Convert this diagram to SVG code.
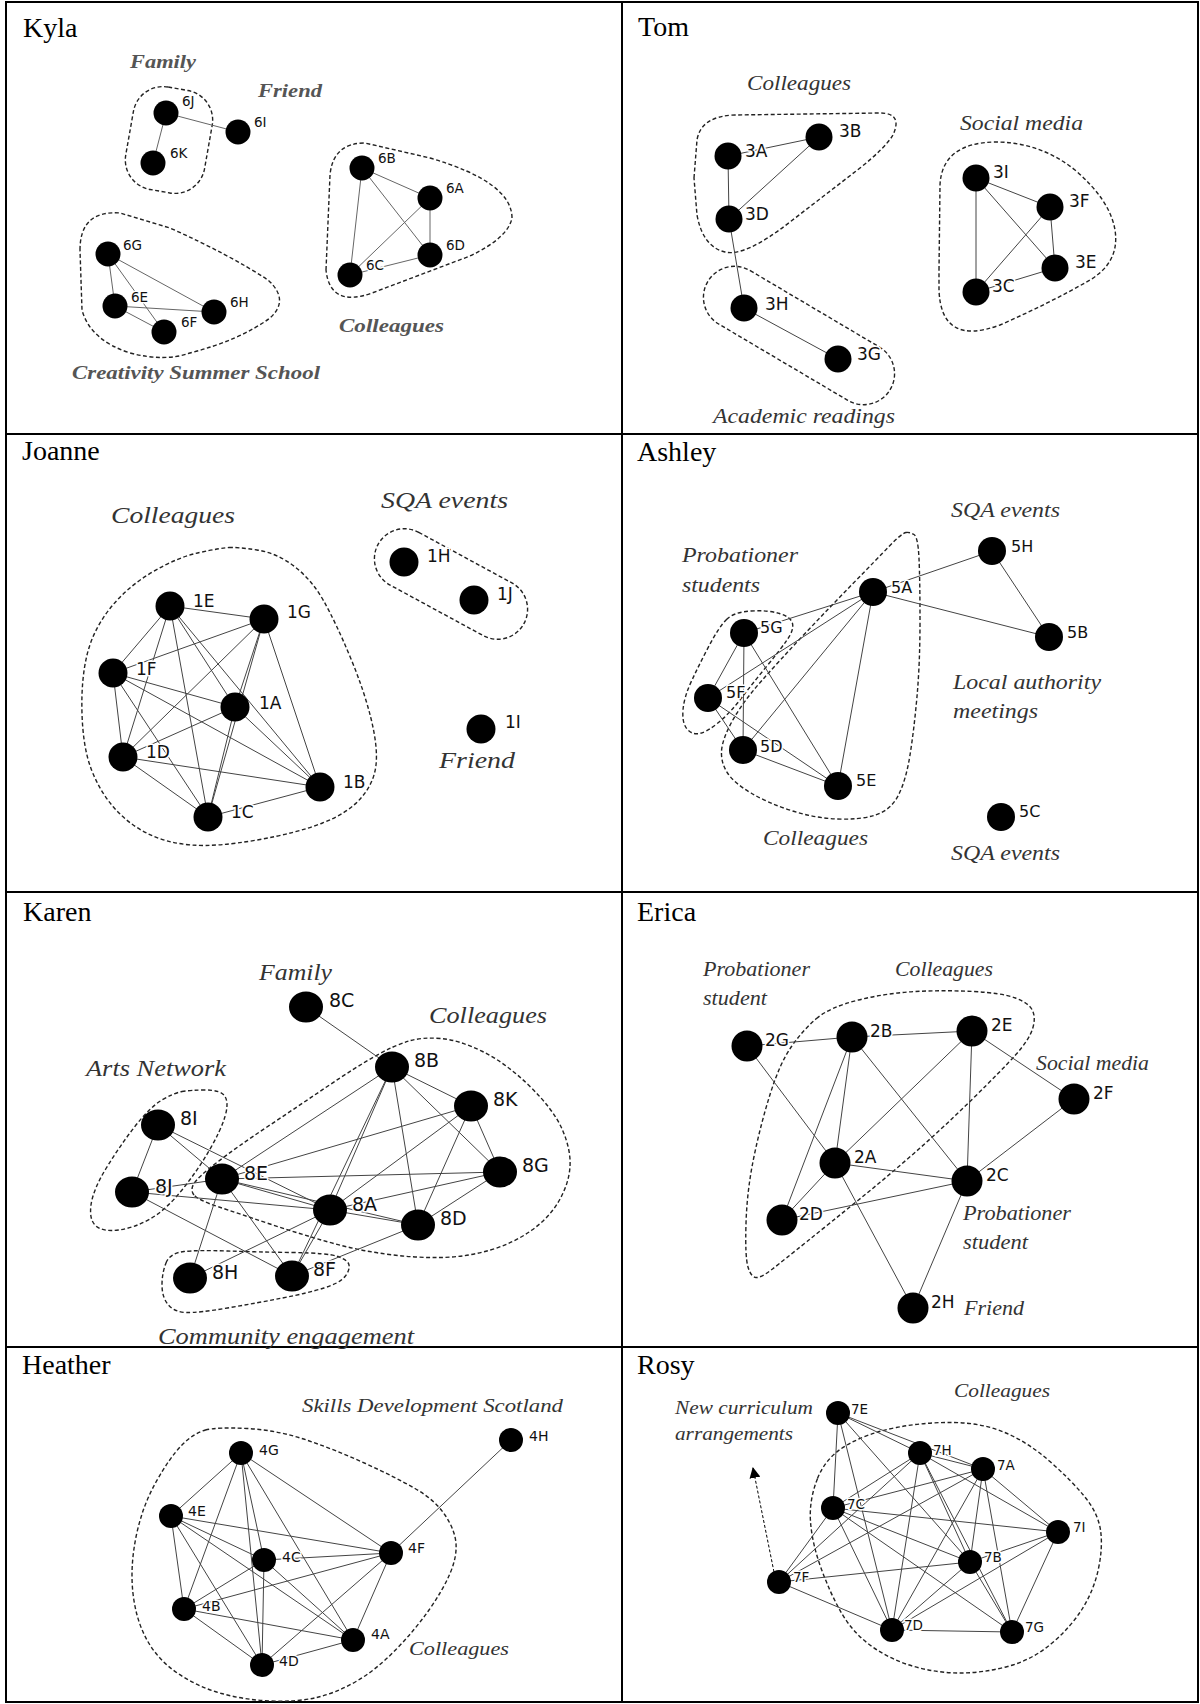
<svg xmlns="http://www.w3.org/2000/svg" width="1200" height="1704" viewBox="0 0 1200 1704">
<defs>
<style>
.cell{fill:none;stroke:#000;stroke-width:2}
.title{font-family:"Liberation Serif",serif;font-size:28px;fill:#000}
.grp{font-family:"Liberation Serif",serif;font-style:italic;fill:#333}
.grpk{font-family:"Liberation Serif",serif;font-style:italic;font-weight:bold;fill:#555}
.lbl{font-family:"DejaVu Sans",sans-serif;fill:#111;stroke:#fff;stroke-width:3px;paint-order:stroke;stroke-linejoin:round}
.hull{fill:none;stroke:#222;stroke-width:1.4;stroke-dasharray:4 2.5}
.edges line{stroke:#444;stroke-width:1}
#e-kyla line{stroke:#666}
.n{fill:#000}
</style>
<marker id="arr" viewBox="0 0 10 10" refX="9" refY="5" markerWidth="11" markerHeight="11" orient="auto" markerUnits="userSpaceOnUse">
<path d="M0,0 L10,5 L0,10 Z" fill="#000"/>
</marker>
</defs>
<rect width="1200" height="1704" fill="#fff"/>

<!-- table -->
<g id="table">
<rect class="cell" x="6" y="2" width="1192" height="1700"/>
<line class="cell" x1="622" y1="2" x2="622" y2="1702"/>
<line class="cell" x1="6" y1="434" x2="1198" y2="434"/>
<line class="cell" x1="6" y1="892" x2="1198" y2="892"/>
<line class="cell" x1="6" y1="1347" x2="1198" y2="1347"/>
<text class="title" x="23" y="37">Kyla</text>
<text class="title" x="638" y="36">Tom</text>
<text class="title" x="22" y="460">Joanne</text>
<text class="title" x="637" y="461">Ashley</text>
<text class="title" x="23" y="921">Karen</text>
<text class="title" x="637" y="921">Erica</text>
<text class="title" x="22" y="1374">Heather</text>
<text class="title" x="637" y="1374">Rosy</text>
</g>

<!-- group outlines -->
<g id="clusters">
<rect class="hull" x="-40" y="-52" width="80" height="104" rx="30" transform="translate(169,140) rotate(10)"/>
<path class="hull" d="M326,270 L330,175 Q333,143 365,143 L430,158 Q512,182 512,218 Q508,238 470,256 L372,293 Q330,308 326,270 Z"/>
<path class="hull" d="M80,250 Q80,210 120,213 L170,228 Q230,255 268,280 Q290,300 270,318 Q240,340 190,353 Q165,362 130,353 Q90,340 82,310 Z"/>
<path class="hull" d="M694,178 L697,140 Q701,116 735,115 L880,113 Q903,113 893,135 Q885,148 860,168 L790,222 Q745,257 725,252 Q703,247 697,215 Z"/>
<path class="hull" d="M939,270 L940,185 Q942,143 995,142 Q1040,142 1075,170 Q1110,200 1115,230 Q1120,262 1090,280 Q1050,303 1000,325 Q970,336 955,327 Q940,318 939,290 Z"/>
<rect class="hull" x="-106" y="-31" width="212" height="62" rx="31" transform="translate(799,335.5) rotate(30.6)"/>
<path class="hull" d="M229,547.5 Q237,547 257,550 Q277,553 294.5,566.5 Q312,580 324,601.5 Q336,623 350,656.5 Q364,690 371,718.5 Q378,747 376,765 Q374,783 361,798 Q348,813 322.5,823 Q297,833 257,840 Q217,847 191.5,845 Q166,843 146.5,833 Q127,823 113,806.5 Q99,790 91,768.5 Q83,747 82,713.5 Q81,680 87,655 Q93,630 110,608.5 Q127,587 152.5,572 Q178,557 199.5,552.5 Q221,548 229,547.5 Z"/>
<rect class="hull" x="-83" y="-30" width="166" height="60" rx="30" transform="translate(451,584) rotate(28.5)"/>
<path class="hull" d="M726.5,619.5 Q734,612 751,611 Q768,610 779.5,613.5 Q791,617 792.5,623.5 Q794,630 787,640 Q780,650 766.5,666.5 Q753,683 741.5,698 Q730,713 718.5,722.5 Q707,732 699.5,733.5 Q692,735 687,729 Q682,723 683,710 Q684,697 692,680 Q700,663 709.5,645 Q719,627 726.5,619.5 Z"/>
<path class="hull" d="M906,532.5 Q910,532 914,534.5 Q918,537 919,558.5 Q920,580 920,621.5 Q920,663 917,696.5 Q914,730 910,755 Q906,780 898.5,795 Q891,810 875.5,815 Q860,820 837,819 Q814,818 791,810.5 Q768,803 751,793 Q734,783 727.5,773 Q721,763 721.5,751.5 Q722,740 732,721.5 Q742,703 761,681.5 Q780,660 805,633.5 Q830,607 853,583.5 Q876,560 889,546.5 Q902,533 906,532.5 Z"/>
<path class="hull" d="M182,1091.5 Q190,1090 205.5,1090 Q221,1090 225,1096.5 Q229,1103 225,1116.5 Q221,1130 209.5,1150 Q198,1170 182,1190 Q166,1210 150,1219 Q134,1228 118.5,1230 Q103,1232 96,1226 Q89,1220 91,1205 Q93,1190 106,1168.5 Q119,1147 134.5,1127 Q150,1107 162,1100 Q174,1093 182,1091.5 Z"/>
<path class="hull" d="M194,1195 Q190,1190 194,1183.5 Q198,1177 217.5,1162 Q237,1147 267,1127 Q297,1107 326.5,1087 Q356,1067 375.5,1056 Q395,1045 409,1041 Q423,1037 441,1038.5 Q459,1040 482.5,1051.5 Q506,1063 530,1086.5 Q554,1110 562.5,1130 Q571,1150 570,1166.5 Q569,1183 559.5,1200 Q550,1217 532,1230 Q514,1243 490.5,1250 Q467,1257 441,1257.5 Q415,1258 385.5,1254 Q356,1250 326.5,1241.5 Q297,1233 267,1223 Q237,1213 217.5,1206.5 Q198,1200 194,1195 Z"/>
<path class="hull" d="M166,1263 Q170,1253 184,1251.5 Q198,1250 227.5,1251 Q257,1252 292.5,1252.5 Q328,1253 338,1256.5 Q348,1260 349,1265 Q350,1270 345,1276.5 Q340,1283 324,1288 Q308,1293 282.5,1298 Q257,1303 227.5,1308 Q198,1313 186,1312.5 Q174,1312 168,1304.5 Q162,1297 162,1285 Q162,1273 166,1263 Z"/>
<path class="hull" d="M816.5,1018.5 Q830,1007 858.5,1000 Q887,993 915.5,991.5 Q944,990 973,991.5 Q1002,993 1015.5,998 Q1029,1003 1032.5,1010.5 Q1036,1018 1032.5,1029 Q1029,1040 1015.5,1055 Q1002,1070 973,1098.5 Q944,1127 915.5,1152 Q887,1177 858.5,1200 Q830,1223 807,1241.5 Q784,1260 772.5,1269 Q761,1278 756,1277.5 Q751,1277 748,1267 Q745,1257 746,1223.5 Q747,1190 754,1156.5 Q761,1123 770.5,1093 Q780,1063 791.5,1046.5 Q803,1030 816.5,1018.5 Z"/>
<path class="hull" d="M205.5,1430 Q217,1427 247,1428.5 Q277,1430 306.5,1440 Q336,1450 365.5,1463.5 Q395,1477 415,1488.5 Q435,1500 445,1515 Q455,1530 456,1543.5 Q457,1557 450,1573.5 Q443,1590 429,1610 Q415,1630 395.5,1650 Q376,1670 356,1681.5 Q336,1693 316.5,1697.5 Q297,1702 271,1701 Q245,1700 221.5,1693.5 Q198,1687 178,1673.5 Q158,1660 147,1640 Q136,1620 133,1593.5 Q130,1567 136,1537 Q142,1507 156,1482 Q170,1457 182,1445 Q194,1433 205.5,1430 Z"/>
<path class="hull" d="M817.5,1478.5 Q826,1457 847,1445 Q868,1433 896.5,1427.5 Q925,1422 954,1422.5 Q983,1423 1006,1433 Q1029,1443 1050,1461.5 Q1071,1480 1084.5,1496.5 Q1098,1513 1100.5,1530 Q1103,1547 1098.5,1568.5 Q1094,1590 1082.5,1608.5 Q1071,1627 1051.5,1643.5 Q1032,1660 1007.5,1666.5 Q983,1673 960,1673 Q937,1673 914,1666.5 Q891,1660 872,1646.5 Q853,1633 841.5,1613 Q830,1593 821,1568 Q812,1543 810.5,1521.5 Q809,1500 817.5,1478.5 Z"/>
</g>

<!-- group labels -->
<g id="cluster-labels">
<text class="grpk" x="130" y="68" font-size="18" textLength="66" lengthAdjust="spacingAndGlyphs">Family</text>
<text class="grpk" x="258" y="97" font-size="18" textLength="64" lengthAdjust="spacingAndGlyphs">Friend</text>
<text class="grpk" x="339" y="332" font-size="18" textLength="105" lengthAdjust="spacingAndGlyphs">Colleagues</text>
<text class="grpk" x="72" y="379" font-size="18" textLength="248" lengthAdjust="spacingAndGlyphs">Creativity Summer School</text>
<text class="grp" x="747" y="90" font-size="21" textLength="104" lengthAdjust="spacingAndGlyphs">Colleagues</text>
<text class="grp" x="960" y="130" font-size="21" textLength="123" lengthAdjust="spacingAndGlyphs">Social media</text>
<text class="grp" x="713" y="423" font-size="21" textLength="182" lengthAdjust="spacingAndGlyphs">Academic readings</text>
<text class="grp" x="111" y="523" font-size="24" textLength="124" lengthAdjust="spacingAndGlyphs">Colleagues</text>
<text class="grp" x="381" y="508" font-size="24" textLength="127" lengthAdjust="spacingAndGlyphs">SQA events</text>
<text class="grp" x="439" y="768" font-size="24" textLength="76" lengthAdjust="spacingAndGlyphs">Friend</text>
<text class="grp" x="951" y="517" font-size="21" textLength="109" lengthAdjust="spacingAndGlyphs">SQA events</text>
<text class="grp" x="682" y="562" font-size="21" textLength="116" lengthAdjust="spacingAndGlyphs">Probationer</text>
<text class="grp" x="682" y="592" font-size="21" textLength="78" lengthAdjust="spacingAndGlyphs">students</text>
<text class="grp" x="953" y="689" font-size="21" textLength="148" lengthAdjust="spacingAndGlyphs">Local authority</text>
<text class="grp" x="953" y="718" font-size="21" textLength="85" lengthAdjust="spacingAndGlyphs">meetings</text>
<text class="grp" x="763" y="845" font-size="21" textLength="105" lengthAdjust="spacingAndGlyphs">Colleagues</text>
<text class="grp" x="951" y="860" font-size="21" textLength="109" lengthAdjust="spacingAndGlyphs">SQA events</text>
<text class="grp" x="259" y="980" font-size="23" textLength="73" lengthAdjust="spacingAndGlyphs">Family</text>
<text class="grp" x="429" y="1023" font-size="23" textLength="118" lengthAdjust="spacingAndGlyphs">Colleagues</text>
<text class="grp" x="86" y="1076" font-size="23" textLength="140" lengthAdjust="spacingAndGlyphs">Arts Network</text>
<text class="grp" x="158" y="1344" font-size="23" textLength="256" lengthAdjust="spacingAndGlyphs">Community engagement</text>
<text class="grp" x="703" y="976" font-size="21" textLength="107" lengthAdjust="spacingAndGlyphs">Probationer</text>
<text class="grp" x="703" y="1005" font-size="21" textLength="64" lengthAdjust="spacingAndGlyphs">student</text>
<text class="grp" x="895" y="976" font-size="21" textLength="98" lengthAdjust="spacingAndGlyphs">Colleagues</text>
<text class="grp" x="1036" y="1070" font-size="21" textLength="113" lengthAdjust="spacingAndGlyphs">Social media</text>
<text class="grp" x="963" y="1220" font-size="21" textLength="108" lengthAdjust="spacingAndGlyphs">Probationer</text>
<text class="grp" x="963" y="1249" font-size="21" textLength="65" lengthAdjust="spacingAndGlyphs">student</text>
<text class="grp" x="964" y="1315" font-size="21" textLength="60" lengthAdjust="spacingAndGlyphs">Friend</text>
<text class="grp" x="302" y="1412" font-size="18" textLength="261" lengthAdjust="spacingAndGlyphs">Skills Development Scotland</text>
<text class="grp" x="409" y="1655" font-size="18" textLength="100" lengthAdjust="spacingAndGlyphs">Colleagues</text>
<text class="grp" x="675" y="1414" font-size="19" textLength="138" lengthAdjust="spacingAndGlyphs">New curriculum</text>
<text class="grp" x="675" y="1440" font-size="19" textLength="118" lengthAdjust="spacingAndGlyphs">arrangements</text>
<text class="grp" x="954" y="1397" font-size="19" textLength="96" lengthAdjust="spacingAndGlyphs">Colleagues</text>
</g>

<!-- connectors -->
<g id="connectors" class="edges">
<g id="e-kyla">
<line x1="166" y1="113" x2="153" y2="163"/>
<line x1="166" y1="113" x2="238" y2="132"/>
<line x1="362" y1="168" x2="430" y2="198"/>
<line x1="362" y1="168" x2="350" y2="275"/>
<line x1="362" y1="168" x2="430" y2="255"/>
<line x1="430" y1="198" x2="430" y2="255"/>
<line x1="430" y1="198" x2="350" y2="275"/>
<line x1="350" y1="275" x2="430" y2="255"/>
<line x1="108" y1="254" x2="115" y2="306"/>
<line x1="108" y1="254" x2="214" y2="312"/>
<line x1="108" y1="254" x2="164" y2="332"/>
<line x1="115" y1="306" x2="214" y2="312"/>
<line x1="115" y1="306" x2="164" y2="332"/>
</g>
<g id="e-tom">
<line x1="728" y1="156" x2="819" y2="137"/>
<line x1="819" y1="137" x2="729" y2="219"/>
<line x1="728" y1="156" x2="729" y2="219"/>
<line x1="729" y1="219" x2="744" y2="308"/>
<line x1="744" y1="308" x2="838" y2="359"/>
<line x1="976" y1="178" x2="1050" y2="207"/>
<line x1="976" y1="178" x2="1055" y2="268"/>
<line x1="976" y1="178" x2="976" y2="292"/>
<line x1="1050" y1="207" x2="1055" y2="268"/>
<line x1="1050" y1="207" x2="976" y2="292"/>
<line x1="976" y1="292" x2="1055" y2="268"/>
</g>
<g id="e-joanne">
<line x1="170" y1="606" x2="264" y2="619"/>
<line x1="170" y1="606" x2="113" y2="673"/>
<line x1="170" y1="606" x2="235" y2="707"/>
<line x1="170" y1="606" x2="123" y2="757"/>
<line x1="170" y1="606" x2="320" y2="787"/>
<line x1="170" y1="606" x2="208" y2="817"/>
<line x1="264" y1="619" x2="113" y2="673"/>
<line x1="264" y1="619" x2="235" y2="707"/>
<line x1="264" y1="619" x2="123" y2="757"/>
<line x1="264" y1="619" x2="320" y2="787"/>
<line x1="264" y1="619" x2="208" y2="817"/>
<line x1="113" y1="673" x2="235" y2="707"/>
<line x1="113" y1="673" x2="123" y2="757"/>
<line x1="113" y1="673" x2="320" y2="787"/>
<line x1="113" y1="673" x2="208" y2="817"/>
<line x1="235" y1="707" x2="123" y2="757"/>
<line x1="235" y1="707" x2="320" y2="787"/>
<line x1="235" y1="707" x2="208" y2="817"/>
<line x1="123" y1="757" x2="320" y2="787"/>
<line x1="123" y1="757" x2="208" y2="817"/>
<line x1="320" y1="787" x2="208" y2="817"/>
</g>
<g id="e-ashley">
<line x1="873" y1="592" x2="992" y2="551"/>
<line x1="992" y1="551" x2="1049" y2="637"/>
<line x1="873" y1="592" x2="1049" y2="637"/>
<line x1="873" y1="592" x2="744" y2="633"/>
<line x1="873" y1="592" x2="708" y2="698"/>
<line x1="873" y1="592" x2="743" y2="750"/>
<line x1="873" y1="592" x2="838" y2="786"/>
<line x1="744" y1="633" x2="708" y2="698"/>
<line x1="744" y1="633" x2="743" y2="750"/>
<line x1="744" y1="633" x2="838" y2="786"/>
<line x1="708" y1="698" x2="743" y2="750"/>
<line x1="708" y1="698" x2="838" y2="786"/>
<line x1="743" y1="750" x2="838" y2="786"/>
</g>
<g id="e-karen">
<line x1="306" y1="1007" x2="392" y2="1067"/>
<line x1="158" y1="1125" x2="132" y2="1192"/>
<line x1="158" y1="1125" x2="222" y2="1179"/>
<line x1="158" y1="1125" x2="330" y2="1210"/>
<line x1="132" y1="1192" x2="222" y2="1179"/>
<line x1="132" y1="1192" x2="330" y2="1210"/>
<line x1="132" y1="1192" x2="292" y2="1276"/>
<line x1="222" y1="1179" x2="392" y2="1067"/>
<line x1="222" y1="1179" x2="471" y2="1106"/>
<line x1="222" y1="1179" x2="500" y2="1172"/>
<line x1="222" y1="1179" x2="330" y2="1210"/>
<line x1="222" y1="1179" x2="418" y2="1225"/>
<line x1="222" y1="1179" x2="190" y2="1278"/>
<line x1="222" y1="1179" x2="292" y2="1276"/>
<line x1="392" y1="1067" x2="471" y2="1106"/>
<line x1="392" y1="1067" x2="500" y2="1172"/>
<line x1="392" y1="1067" x2="418" y2="1225"/>
<line x1="392" y1="1067" x2="330" y2="1210"/>
<line x1="392" y1="1067" x2="292" y2="1276"/>
<line x1="471" y1="1106" x2="500" y2="1172"/>
<line x1="471" y1="1106" x2="418" y2="1225"/>
<line x1="471" y1="1106" x2="330" y2="1210"/>
<line x1="500" y1="1172" x2="330" y2="1210"/>
<line x1="500" y1="1172" x2="418" y2="1225"/>
<line x1="330" y1="1210" x2="418" y2="1225"/>
<line x1="330" y1="1210" x2="190" y2="1278"/>
<line x1="330" y1="1210" x2="292" y2="1276"/>
<line x1="418" y1="1225" x2="292" y2="1276"/>
</g>
<g id="e-erica">
<line x1="747" y1="1046" x2="852" y2="1037"/>
<line x1="852" y1="1037" x2="972" y2="1031"/>
<line x1="747" y1="1046" x2="835" y2="1163"/>
<line x1="852" y1="1037" x2="835" y2="1163"/>
<line x1="852" y1="1037" x2="782" y2="1220"/>
<line x1="852" y1="1037" x2="967" y2="1181"/>
<line x1="972" y1="1031" x2="835" y2="1163"/>
<line x1="972" y1="1031" x2="967" y2="1181"/>
<line x1="972" y1="1031" x2="1074" y2="1099"/>
<line x1="1074" y1="1099" x2="967" y2="1181"/>
<line x1="835" y1="1163" x2="967" y2="1181"/>
<line x1="835" y1="1163" x2="782" y2="1220"/>
<line x1="835" y1="1163" x2="913" y2="1308"/>
<line x1="782" y1="1220" x2="967" y2="1181"/>
<line x1="967" y1="1181" x2="913" y2="1308"/>
</g>
<g id="e-heather">
<line x1="241" y1="1453" x2="171" y2="1516"/>
<line x1="241" y1="1453" x2="264" y2="1560"/>
<line x1="241" y1="1453" x2="391" y2="1553"/>
<line x1="241" y1="1453" x2="184" y2="1609"/>
<line x1="241" y1="1453" x2="353" y2="1640"/>
<line x1="241" y1="1453" x2="262" y2="1665"/>
<line x1="171" y1="1516" x2="264" y2="1560"/>
<line x1="171" y1="1516" x2="391" y2="1553"/>
<line x1="171" y1="1516" x2="184" y2="1609"/>
<line x1="171" y1="1516" x2="353" y2="1640"/>
<line x1="171" y1="1516" x2="262" y2="1665"/>
<line x1="264" y1="1560" x2="391" y2="1553"/>
<line x1="264" y1="1560" x2="184" y2="1609"/>
<line x1="264" y1="1560" x2="353" y2="1640"/>
<line x1="264" y1="1560" x2="262" y2="1665"/>
<line x1="391" y1="1553" x2="184" y2="1609"/>
<line x1="391" y1="1553" x2="353" y2="1640"/>
<line x1="391" y1="1553" x2="262" y2="1665"/>
<line x1="184" y1="1609" x2="353" y2="1640"/>
<line x1="184" y1="1609" x2="262" y2="1665"/>
<line x1="353" y1="1640" x2="262" y2="1665"/>
<line x1="391" y1="1553" x2="511" y2="1440"/>
</g>
<g id="e-rosy">
<line x1="838" y1="1413" x2="920" y2="1453"/>
<line x1="838" y1="1413" x2="983" y2="1469"/>
<line x1="838" y1="1413" x2="833" y2="1508"/>
<line x1="838" y1="1413" x2="892" y2="1630"/>
<line x1="838" y1="1413" x2="970" y2="1562"/>
<line x1="920" y1="1453" x2="983" y2="1469"/>
<line x1="920" y1="1453" x2="833" y2="1508"/>
<line x1="920" y1="1453" x2="779" y2="1582"/>
<line x1="920" y1="1453" x2="892" y2="1630"/>
<line x1="920" y1="1453" x2="970" y2="1562"/>
<line x1="920" y1="1453" x2="1012" y2="1632"/>
<line x1="920" y1="1453" x2="1058" y2="1532"/>
<line x1="983" y1="1469" x2="833" y2="1508"/>
<line x1="983" y1="1469" x2="779" y2="1582"/>
<line x1="983" y1="1469" x2="892" y2="1630"/>
<line x1="983" y1="1469" x2="970" y2="1562"/>
<line x1="983" y1="1469" x2="1012" y2="1632"/>
<line x1="983" y1="1469" x2="1058" y2="1532"/>
<line x1="833" y1="1508" x2="1058" y2="1532"/>
<line x1="833" y1="1508" x2="970" y2="1562"/>
<line x1="833" y1="1508" x2="892" y2="1630"/>
<line x1="833" y1="1508" x2="1012" y2="1632"/>
<line x1="833" y1="1508" x2="779" y2="1582"/>
<line x1="1058" y1="1532" x2="970" y2="1562"/>
<line x1="1058" y1="1532" x2="892" y2="1630"/>
<line x1="1058" y1="1532" x2="1012" y2="1632"/>
<line x1="970" y1="1562" x2="779" y2="1582"/>
<line x1="970" y1="1562" x2="892" y2="1630"/>
<line x1="970" y1="1562" x2="1012" y2="1632"/>
<line x1="779" y1="1582" x2="892" y2="1630"/>
<line x1="892" y1="1630" x2="1012" y2="1632"/>
<line x1="774" y1="1572" x2="753" y2="1468" style="stroke:#000;stroke-dasharray:3 2" marker-end="url(#arr)"/>
</g>
</g>

<!-- nodes: Kyla -->
<g id="n-6J"><circle class="n" cx="166" cy="113" r="12.5"/><text class="lbl" x="182" y="106" font-size="13.5">6J</text></g>
<g id="n-6K"><circle class="n" cx="153" cy="163" r="12.5"/><text class="lbl" x="170" y="158" font-size="13.5">6K</text></g>
<g id="n-6I"><circle class="n" cx="238" cy="132" r="12.5"/><text class="lbl" x="254" y="127" font-size="13.5">6I</text></g>
<g id="n-6B"><circle class="n" cx="362" cy="168" r="12.5"/><text class="lbl" x="378" y="163" font-size="13.5">6B</text></g>
<g id="n-6A"><circle class="n" cx="430" cy="198" r="12.5"/><text class="lbl" x="446" y="193" font-size="13.5">6A</text></g>
<g id="n-6D"><circle class="n" cx="430" cy="255" r="12.5"/><text class="lbl" x="446" y="250" font-size="13.5">6D</text></g>
<g id="n-6C"><circle class="n" cx="350" cy="275" r="12.5"/><text class="lbl" x="366" y="270" font-size="13.5">6C</text></g>
<g id="n-6G"><circle class="n" cx="108" cy="254" r="12.5"/><text class="lbl" x="123" y="250" font-size="13.5">6G</text></g>
<g id="n-6E"><circle class="n" cx="115" cy="306" r="12.5"/><text class="lbl" x="131" y="302" font-size="13.5">6E</text></g>
<g id="n-6F"><circle class="n" cx="164" cy="332" r="12.5"/><text class="lbl" x="181" y="327" font-size="13.5">6F</text></g>
<g id="n-6H"><circle class="n" cx="214" cy="312" r="12.5"/><text class="lbl" x="230" y="307" font-size="13.5">6H</text></g>

<!-- nodes: Tom -->
<g id="n-3A"><circle class="n" cx="728" cy="156" r="13.5"/><text class="lbl" x="745" y="157" font-size="17">3A</text></g>
<g id="n-3B"><circle class="n" cx="819" cy="137" r="13.5"/><text class="lbl" x="839" y="137" font-size="17">3B</text></g>
<g id="n-3D"><circle class="n" cx="729" cy="219" r="13.5"/><text class="lbl" x="745" y="220" font-size="17">3D</text></g>
<g id="n-3H"><circle class="n" cx="744" cy="308" r="13.5"/><text class="lbl" x="765" y="310" font-size="17">3H</text></g>
<g id="n-3G"><circle class="n" cx="838" cy="359" r="13.5"/><text class="lbl" x="857" y="360" font-size="17">3G</text></g>
<g id="n-3I"><circle class="n" cx="976" cy="178" r="13.5"/><text class="lbl" x="993" y="178" font-size="17">3I</text></g>
<g id="n-3F"><circle class="n" cx="1050" cy="207" r="13.5"/><text class="lbl" x="1069" y="207" font-size="17">3F</text></g>
<g id="n-3E"><circle class="n" cx="1055" cy="268" r="13.5"/><text class="lbl" x="1075" y="268" font-size="17">3E</text></g>
<g id="n-3C"><circle class="n" cx="976" cy="292" r="13.5"/><text class="lbl" x="992" y="292" font-size="17">3C</text></g>

<!-- nodes: Joanne -->
<g id="n-1E"><circle class="n" cx="170" cy="606" r="14.5"/><text class="lbl" x="193" y="607" font-size="17">1E</text></g>
<g id="n-1G"><circle class="n" cx="264" cy="619" r="14.5"/><text class="lbl" x="287" y="618" font-size="17">1G</text></g>
<g id="n-1F"><circle class="n" cx="113" cy="673" r="14.5"/><text class="lbl" x="136" y="675" font-size="17">1F</text></g>
<g id="n-1A"><circle class="n" cx="235" cy="707" r="14.5"/><text class="lbl" x="259" y="709" font-size="17">1A</text></g>
<g id="n-1D"><circle class="n" cx="123" cy="757" r="14.5"/><text class="lbl" x="146" y="758" font-size="17">1D</text></g>
<g id="n-1B"><circle class="n" cx="320" cy="787" r="14.5"/><text class="lbl" x="343" y="788" font-size="17">1B</text></g>
<g id="n-1C"><circle class="n" cx="208" cy="817" r="14.5"/><text class="lbl" x="231" y="818" font-size="17">1C</text></g>
<g id="n-1H"><circle class="n" cx="404" cy="562" r="14.5"/><text class="lbl" x="427" y="562" font-size="17">1H</text></g>
<g id="n-1J"><circle class="n" cx="474" cy="600" r="14.5"/><text class="lbl" x="497" y="600" font-size="17">1J</text></g>
<g id="n-1I"><circle class="n" cx="481" cy="729" r="14.5"/><text class="lbl" x="505" y="728" font-size="17">1I</text></g>

<!-- nodes: Ashley -->
<g id="n-5A"><circle class="n" cx="873" cy="592" r="14"/><text class="lbl" x="891" y="593" font-size="16">5A</text></g>
<g id="n-5H"><circle class="n" cx="992" cy="551" r="14"/><text class="lbl" x="1011" y="552" font-size="16">5H</text></g>
<g id="n-5B"><circle class="n" cx="1049" cy="637" r="14"/><text class="lbl" x="1067" y="638" font-size="16">5B</text></g>
<g id="n-5G"><circle class="n" cx="744" cy="633" r="14"/><text class="lbl" x="760" y="633" font-size="16">5G</text></g>
<g id="n-5F"><circle class="n" cx="708" cy="698" r="14"/><text class="lbl" x="726" y="698" font-size="16">5F</text></g>
<g id="n-5D"><circle class="n" cx="743" cy="750" r="14"/><text class="lbl" x="760" y="752" font-size="16">5D</text></g>
<g id="n-5E"><circle class="n" cx="838" cy="786" r="14"/><text class="lbl" x="856" y="786" font-size="16">5E</text></g>
<g id="n-5C"><circle class="n" cx="1001" cy="817" r="14"/><text class="lbl" x="1019" y="817" font-size="16">5C</text></g>

<!-- nodes: Karen -->
<g id="n-8C"><ellipse class="n" cx="306" cy="1007" rx="17" ry="15.5"/><text class="lbl" x="329" y="1007" font-size="19">8C</text></g>
<g id="n-8B"><ellipse class="n" cx="392" cy="1067" rx="17" ry="15.5"/><text class="lbl" x="414" y="1067" font-size="19">8B</text></g>
<g id="n-8K"><ellipse class="n" cx="471" cy="1106" rx="17" ry="15.5"/><text class="lbl" x="493" y="1106" font-size="19">8K</text></g>
<g id="n-8G"><ellipse class="n" cx="500" cy="1172" rx="17" ry="15.5"/><text class="lbl" x="522" y="1172" font-size="19">8G</text></g>
<g id="n-8I"><ellipse class="n" cx="158" cy="1125" rx="17" ry="15.5"/><text class="lbl" x="180" y="1125" font-size="19">8I</text></g>
<g id="n-8J"><ellipse class="n" cx="132" cy="1192" rx="17" ry="15.5"/><text class="lbl" x="155" y="1193" font-size="19">8J</text></g>
<g id="n-8E"><ellipse class="n" cx="222" cy="1179" rx="17" ry="15.5"/><text class="lbl" x="244" y="1180" font-size="19">8E</text></g>
<g id="n-8A"><ellipse class="n" cx="330" cy="1210" rx="17" ry="15.5"/><text class="lbl" x="352" y="1211" font-size="19">8A</text></g>
<g id="n-8D"><ellipse class="n" cx="418" cy="1225" rx="17" ry="15.5"/><text class="lbl" x="440" y="1225" font-size="19">8D</text></g>
<g id="n-8H"><ellipse class="n" cx="190" cy="1278" rx="17" ry="15.5"/><text class="lbl" x="212" y="1279" font-size="19">8H</text></g>
<g id="n-8F"><ellipse class="n" cx="292" cy="1276" rx="17" ry="15.5"/><text class="lbl" x="313" y="1276" font-size="19">8F</text></g>

<!-- nodes: Erica -->
<g id="n-2G"><circle class="n" cx="747" cy="1046" r="15.5"/><text class="lbl" x="765" y="1046" font-size="17">2G</text></g>
<g id="n-2B"><circle class="n" cx="852" cy="1037" r="15.5"/><text class="lbl" x="870" y="1037" font-size="17">2B</text></g>
<g id="n-2E"><circle class="n" cx="972" cy="1031" r="15.5"/><text class="lbl" x="991" y="1031" font-size="17">2E</text></g>
<g id="n-2F"><circle class="n" cx="1074" cy="1099" r="15.5"/><text class="lbl" x="1093" y="1099" font-size="17">2F</text></g>
<g id="n-2A"><circle class="n" cx="835" cy="1163" r="15.5"/><text class="lbl" x="854" y="1163" font-size="17">2A</text></g>
<g id="n-2C"><circle class="n" cx="967" cy="1181" r="15.5"/><text class="lbl" x="986" y="1181" font-size="17">2C</text></g>
<g id="n-2D"><circle class="n" cx="782" cy="1220" r="15.5"/><text class="lbl" x="799" y="1220" font-size="17">2D</text></g>
<g id="n-2H"><circle class="n" cx="913" cy="1308" r="15.5"/><text class="lbl" x="931" y="1308" font-size="17">2H</text></g>

<!-- nodes: Heather -->
<g id="n-4G"><circle class="n" cx="241" cy="1453" r="12"/><text class="lbl" x="259" y="1455" font-size="14">4G</text></g>
<g id="n-4E"><circle class="n" cx="171" cy="1516" r="12"/><text class="lbl" x="188" y="1516" font-size="14">4E</text></g>
<g id="n-4C"><circle class="n" cx="264" cy="1560" r="12"/><text class="lbl" x="282" y="1562" font-size="14">4C</text></g>
<g id="n-4F"><circle class="n" cx="391" cy="1553" r="12"/><text class="lbl" x="408" y="1553" font-size="14">4F</text></g>
<g id="n-4B"><circle class="n" cx="184" cy="1609" r="12"/><text class="lbl" x="202" y="1611" font-size="14">4B</text></g>
<g id="n-4A"><circle class="n" cx="353" cy="1640" r="12"/><text class="lbl" x="371" y="1639" font-size="14">4A</text></g>
<g id="n-4D"><circle class="n" cx="262" cy="1665" r="12"/><text class="lbl" x="279" y="1666" font-size="14">4D</text></g>
<g id="n-4H"><circle class="n" cx="511" cy="1440" r="12"/><text class="lbl" x="529" y="1441" font-size="14">4H</text></g>

<!-- nodes: Rosy -->
<g id="n-7E"><circle class="n" cx="838" cy="1413" r="12"/><text class="lbl" x="851" y="1414" font-size="13.5">7E</text></g>
<g id="n-7H"><circle class="n" cx="920" cy="1453" r="12"/><text class="lbl" x="933" y="1455" font-size="13.5">7H</text></g>
<g id="n-7A"><circle class="n" cx="983" cy="1469" r="12"/><text class="lbl" x="997" y="1470" font-size="13.5">7A</text></g>
<g id="n-7C"><circle class="n" cx="833" cy="1508" r="12"/><text class="lbl" x="847" y="1509" font-size="13.5">7C</text></g>
<g id="n-7I"><circle class="n" cx="1058" cy="1532" r="12"/><text class="lbl" x="1073" y="1532" font-size="13.5">7I</text></g>
<g id="n-7B"><circle class="n" cx="970" cy="1562" r="12"/><text class="lbl" x="984" y="1562" font-size="13.5">7B</text></g>
<g id="n-7F"><circle class="n" cx="779" cy="1582" r="12"/><text class="lbl" x="793" y="1582" font-size="13.5">7F</text></g>
<g id="n-7D"><circle class="n" cx="892" cy="1630" r="12"/><text class="lbl" x="904" y="1630" font-size="13.5">7D</text></g>
<g id="n-7G"><circle class="n" cx="1012" cy="1632" r="12"/><text class="lbl" x="1025" y="1632" font-size="13.5">7G</text></g>
</svg>
